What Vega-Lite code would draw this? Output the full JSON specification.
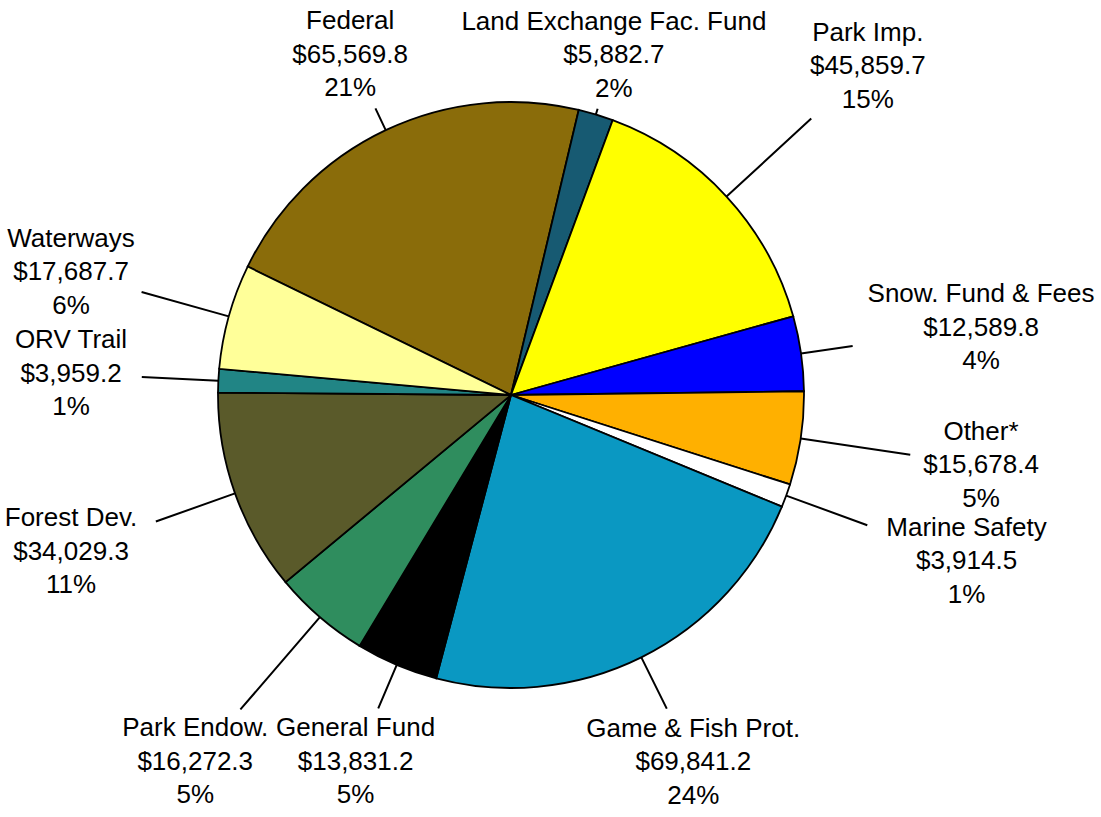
{
  "$schema": "https://vega.github.io/schema/vega-lite/v6.json",
  "width": 1022,
  "height": 790,
  "autosize": {"type": "none"},
  "padding": {"left": 0, "top": 0, "right": 79, "bottom": 27},
  "background": "#ffffff",
  "config": {"view": {"stroke": null}, "font": "Liberation Sans"},
  "title": {"text": "In Thousands", "orient": "bottom", "anchor": "end", "dx": 120, "offset": 17, "fontSize": 26, "fontWeight": "normal", "font": "Liberation Sans", "color": "#000000"},
  "data": {"values": [
    {"ord": 1, "name": "Federal", "amount": 65569.8, "amt": "$65,569.8", "pct": "21%"},
    {"ord": 2, "name": "Land Exchange Fac. Fund", "amount": 5882.7, "amt": "$5,882.7", "pct": "2%"},
    {"ord": 3, "name": "Park Imp.", "amount": 45859.7, "amt": "$45,859.7", "pct": "15%"},
    {"ord": 4, "name": "Snow. Fund & Fees", "amount": 12589.8, "amt": "$12,589.8", "pct": "4%"},
    {"ord": 5, "name": "Other*", "amount": 15678.4, "amt": "$15,678.4", "pct": "5%"},
    {"ord": 6, "name": "Marine Safety", "amount": 3914.5, "amt": "$3,914.5", "pct": "1%"},
    {"ord": 7, "name": "Game & Fish Prot.", "amount": 69841.2, "amt": "$69,841.2", "pct": "24%"},
    {"ord": 8, "name": "General Fund", "amount": 13831.2, "amt": "$13,831.2", "pct": "5%"},
    {"ord": 9, "name": "Park Endow.", "amount": 16272.3, "amt": "$16,272.3", "pct": "5%"},
    {"ord": 10, "name": "Forest Dev.", "amount": 34029.3, "amt": "$34,029.3", "pct": "11%"},
    {"ord": 11, "name": "ORV Trail", "amount": 3959.2, "amt": "$3,959.2", "pct": "1%"},
    {"ord": 12, "name": "Waterways", "amount": 17687.7, "amt": "$17,687.7", "pct": "6%"}
  ]},
  "transform": [
    {"joinaggregate": [{"op": "sum", "field": "amount", "as": "total"}]},
    {"window": [{"op": "sum", "field": "amount", "as": "cum"}], "sort": [{"field": "ord", "order": "ascending"}], "frame": [null, 0]},
    {"calculate": "datum.cum - datum.amount / 2", "as": "mid"},
    {"calculate": "-1.117 + 2 * PI * datum.mid / datum.total", "as": "ang"},
    {"calculate": "485 * sin(datum.ang)", "as": "rx"},
    {"calculate": "-485 * cos(datum.ang)", "as": "ry"},
    {"calculate": "min(1, (datum.rx < 0 ? 440 : 470) / max(abs(datum.rx), 0.001), (datum.ry < 0 ? 340 : 367) / max(abs(datum.ry), 0.001))", "as": "t"},
    {"calculate": "485 * datum.t", "as": "lr"},
    {"calculate": "7.2 * max(length(datum.name), length(datum.amt))", "as": "hw"},
    {"calculate": "datum.lr - min(datum.hw / max(abs(sin(datum.ang)), 0.001), 48 / max(abs(cos(datum.ang)), 0.001)) - 6", "as": "ld"},
    {"calculate": "datum.name + '\\n' + datum.amt + '\\n' + datum.pct", "as": "label"}
  ],
  "layer": [
    {
      "mark": {"type": "arc", "outerRadius": 293, "stroke": "#000000", "strokeWidth": 1.8},
      "encoding": {
        "theta": {"field": "amount", "type": "quantitative", "stack": true, "scale": {"range": [-1.117, 5.1662]}},
        "order": {"field": "ord", "type": "quantitative"},
        "color": {
          "field": "name", "type": "nominal", "legend": null,
          "scale": {
            "domain": ["Federal", "Land Exchange Fac. Fund", "Park Imp.", "Snow. Fund & Fees", "Other*", "Marine Safety", "Game & Fish Prot.", "General Fund", "Park Endow.", "Forest Dev.", "ORV Trail", "Waterways"],
            "range": ["#8a6c0a", "#175a72", "#ffff00", "#0000ff", "#ffb000", "#ffffff", "#0a98c2", "#000000", "#2f8d5e", "#5a5a2a", "#218585", "#ffff99"]
          }
        }
      }
    },
    {
      "mark": {"type": "arc", "filled": false, "stroke": "#000000", "strokeWidth": 2},
      "encoding": {
        "theta": {"field": "mid", "type": "quantitative", "stack": null, "scale": {"range": [-1.117, 5.1662]}},
        "theta2": {"field": "mid"},
        "radius": {"field": "ld", "type": "quantitative", "scale": null},
        "radius2": {"value": 293}
      }
    },
    {
      "mark": {"type": "text", "fontSize": 26, "lineHeight": 33.5, "font": "Liberation Sans", "align": "center", "baseline": "middle", "lineBreak": "\n", "color": "#000000", "dy": -33.5},
      "encoding": {
        "theta": {"field": "mid", "type": "quantitative", "stack": null},
        "radius": {"field": "lr", "type": "quantitative", "scale": null},
        "text": {"field": "label"}
      }
    }
  ]
}
